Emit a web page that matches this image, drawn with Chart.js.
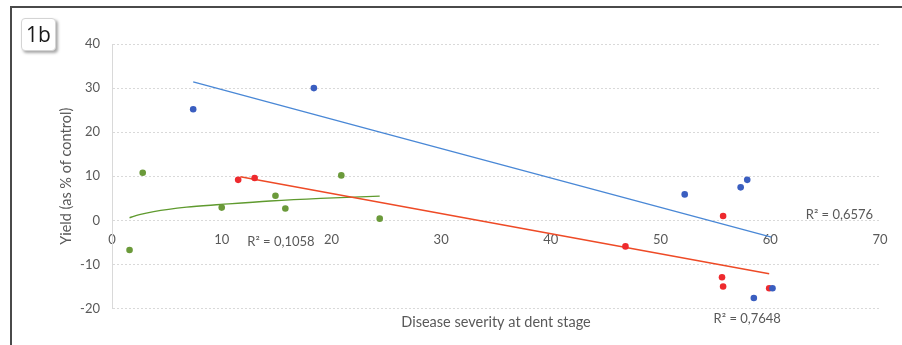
<!DOCTYPE html>
<html lang="en">
  <head>
    <meta charset="UTF-8" />
    <meta name="viewport" content="width=device-width, initial-scale=1.0" />
    <title>1b - Yield vs disease severity</title>
    <script src="https://cdn.jsdelivr.net/npm/chart.js@4"></script>
    <style>
      html,
      body {
        margin: 0;
        padding: 0;
        background: #fff;
      }
      body {
        width: 902px;
        height: 345px;
        position: relative;
        overflow: hidden;
      }
      .frame {
        position: absolute;
        left: 10px;
        top: 6px;
        right: -10px;
        bottom: -10px;
        border-top: 2px solid #4a4a4a;
        border-left: 2px solid #4a4a4a;
      }
      .tag {
        position: absolute;
        left: 21px;
        top: 18px;
        width: 33px;
        height: 31px;
        border: 1px solid #d4d4d4;
        border-radius: 4px;
        box-shadow: 2px 2px 3px rgba(0, 0, 0, 0.35);
        background: #fff;
        font: 21px "Open Sans", "Liberation Sans", sans-serif;
        line-height: 31px;
        text-align: center;
        color: #1a1a1a;
      }
      #wrap {
        position: absolute;
        left: 0;
        top: 0;
        width: 902px;
        height: 345px;
      }
    </style>
  </head>
  <body>
    <div class="frame"></div>
    <div id="wrap"><canvas id="chart"></canvas></div>
    <div class="tag">1b</div>

    <script>
      // values
      const blueX = [7.4, 18.4, 52.2, 57.3, 57.9, 58.5, 60.2];
      const blueY = [25.2, 30.0, 5.9, 7.5, 9.2, -17.6, -15.4];
      const redX = [11.5, 13.0, 46.8, 55.7, 55.6, 55.7, 59.9];
      const redY = [9.2, 9.6, -5.9, 1.0, -12.9, -15.0, -15.4];
      const greenX = [1.6, 2.8, 10.0, 14.9, 15.8, 20.9, 24.4];
      const greenY = [-6.7, 10.8, 2.9, 5.6, 2.7, 10.2, 0.4];

      // trend lines, also
      const blueTrendX = [7.4, 60.1];
      const blueTrendY = [31.4, -3.8];
      const redTrendX = [11.7, 59.9];
      const redTrendY = [9.9, -12.1];
      const greenTrendX = [1.6, 2.5, 3.8, 6.8, 9.9, 14.4, 19.0, 24.4];
      const greenTrendY = [0.6, 1.3, 2.0, 3.0, 3.6, 4.4, 5.0, 5.5];

      const xTicks = [0, 10, 20, 30, 40, 50, 60, 70];
      const yTicks = [-20, -10, 0, 10, 20, 30, 40];
      const r2Labels = ["R² = 0,6576", "R² = 0,7648", "R² = 0,1058"];

      const pts = (xs, ys) => xs.map((x, i) => ({ x: x, y: ys[i] }));

      const fontFam = "Lato, 'Open Sans', sans-serif";
      const textGrey = "#595959";

      // where each R² label sits, in data units
      const r2Anchors = [
        { x: 66.3, y: 1.3 },
        { x: 57.9, y: -22.3 },
        { x: 15.4, y: -4.8 },
      ];

      const r2Plugin = {
        id: "r2",
        afterDatasetsDraw(chart) {
          const ctx = chart.ctx;
          const sx = chart.scales.x;
          const sy = chart.scales.y;
          ctx.save();
          ctx.font = "13px " + fontFam;
          ctx.fillStyle = textGrey;
          ctx.textAlign = "center";
          ctx.textBaseline = "middle";
          r2Labels.forEach((t, i) => {
            const a = r2Anchors[i];
            ctx.fillText(t, sx.getPixelForValue(a.x), sy.getPixelForValue(a.y));
          });
          ctx.restore();
        },
      };

      const dot = (label, data, color) => ({
        label: label,
        data: data,
        backgroundColor: color,
        borderColor: color,
        pointRadius: 3.3,
        pointHoverRadius: 3.3,
        borderWidth: 0,
        showLine: false,
      });

      const trend = (label, data, color) => ({
        label: label,
        data: data,
        borderColor: color,
        backgroundColor: color,
        borderWidth: 1.4,
        pointRadius: 0,
        showLine: true,
        cubicInterpolationMode: "monotone",
        fill: false,
      });

      new Chart(document.getElementById("chart"), {
        type: "scatter",
        data: {
          datasets: [
            dot("blue", pts(blueX, blueY), "#3a5ec0"),
            dot("red", pts(redX, redY), "#ee2a2e"),
            dot("green", pts(greenX, greenY), "#6b9a3a"),
            trend("blue trend", pts(blueTrendX, blueTrendY), "#4a88d6"),
            trend("red trend", pts(redTrendX, redTrendY), "#ee4a26"),
            trend("green trend", pts(greenTrendX, greenTrendY), "#5f9a2e"),
          ],
        },
        options: {
          responsive: true,
          maintainAspectRatio: false,
          animation: false,
          layout: { padding: { left: 54, top: 44, right: 22, bottom: 10 } },
          plugins: {
            legend: { display: false },
            tooltip: { enabled: false },
          },
          scales: {
            x: {
              type: "linear",
              min: 0,
              max: 70,
              position: "bottom",
              ticks: { display: false },
              grid: { display: false, drawTicks: false },
              border: { display: false },
              title: {
                display: true,
                text: "Disease severity at dent stage",
                color: textGrey,
                font: { family: fontFam, size: 14.5 },
                padding: { top: 5, bottom: 4 },
              },
            },
            x0: {
              type: "linear",
              axis: "x",
              min: 0,
              max: 70,
              position: { y: 0 },
              afterBuildTicks: (s) => {
                s.ticks = xTicks.map((v) => ({ value: v }));
              },
              ticks: {
                color: textGrey,
                font: { family: fontFam, size: 13 },
                padding: 12,
                maxRotation: 0,
              },
              grid: { display: false, drawTicks: false },
              border: { display: false },
            },
            y: {
              type: "linear",
              min: -20,
              max: 40,
              afterBuildTicks: (s) => {
                s.ticks = yTicks.map((v) => ({ value: v }));
              },
              afterFit: (s) => {
                s.width = 58;
              },
              ticks: {
                color: textGrey,
                font: { family: fontFam, size: 13 },
                padding: 12,
              },
              grid: { color: "#d9d9d9", lineWidth: 1, drawTicks: false },
              border: { display: true, color: "#d9d9d9", dash: [2, 2] },
              title: {
                display: true,
                text: "Yield (as % of control)",
                color: textGrey,
                font: { family: fontFam, size: 14.5 },
              },
            },
          },
        },
        plugins: [r2Plugin],
      });
    </script>
  </body>
</html>
